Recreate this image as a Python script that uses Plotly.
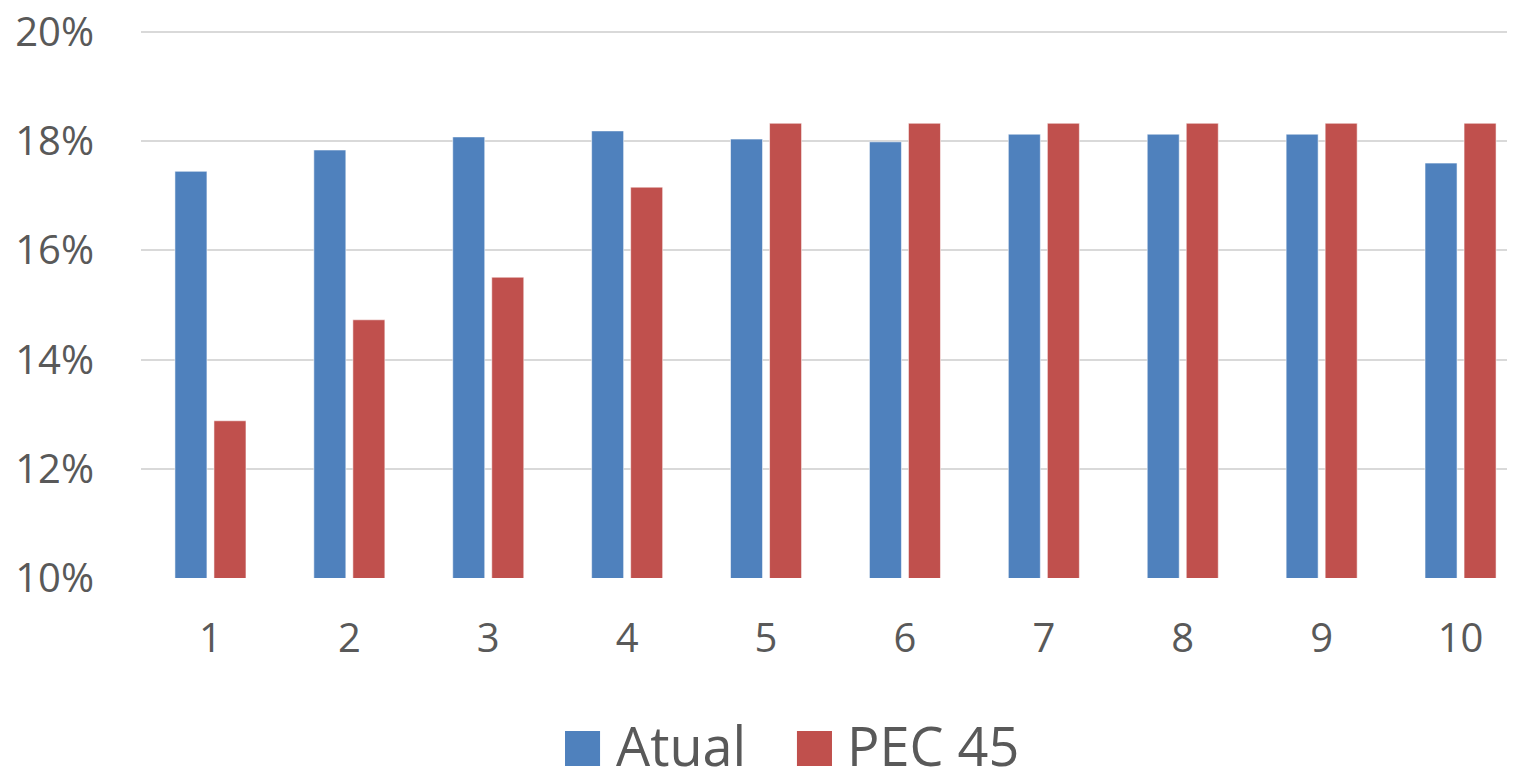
import plotly.graph_objects as go

categories = ["1", "2", "3", "4", "5", "6", "7", "8", "9", "10"]
atual = [17.45, 17.84, 18.08, 18.19, 18.04, 17.99, 18.13, 18.13, 18.13, 17.60]
pec45 = [12.88, 14.73, 15.51, 17.16, 18.33, 18.33, 18.33, 18.33, 18.33, 18.33]
series_names = ["Atual", "PEC 45"]
colors = ["#4F81BD", "#C0504D"]
y_ticks = [10, 12, 14, 16, 18, 20]
y_tick_labels = ["10%", "12%", "14%", "16%", "18%", "20%"]

FONT = "Open Sans"
TXT = "#595959"

fig = go.Figure()
for name, vals, col in zip(series_names, [atual, pec45], colors):
    fig.add_trace(go.Bar(
        x=categories, y=vals, name=name, showlegend=False,
        marker=dict(color=col, line=dict(color="rgba(255,255,255,0.55)", width=1)),
    ))

# Legend drawn as shapes + text to match large squares
leg = [(0.3086, 0.3341, 0.3442), (0.4774, 0.5029, 0.5124)]
for (x0, x1, xt), name, col in zip(leg, series_names, colors):
    fig.add_shape(type="rect", xref="paper", yref="paper", x0=x0, x1=x1,
                  y0=-0.3437, y1=-0.2797, fillcolor=col, line=dict(width=0))
    fig.add_annotation(xref="paper", yref="paper", x=xt, y=-0.306, text=name,
                       showarrow=False, xanchor="left", yanchor="middle",
                       font=dict(family=FONT, size=54, color=TXT))

fig.update_layout(
    width=1507, height=763,
    margin=dict(l=133, r=0, t=23, b=193),
    paper_bgcolor="white", plot_bgcolor="white",
    barmode="group", bargap=0.438, bargroupgap=0.18,
    font=dict(family=FONT, color=TXT),
)
fig.update_xaxes(
    type="category", categoryorder="array", categoryarray=categories,
    range=[-0.5, 9.392], showgrid=False, showline=False, zeroline=False,
    ticks="", tickfont=dict(family=FONT, size=40, color=TXT),
    ticklabelstandoff=33, automargin=False,
)
fig.update_yaxes(
    range=[10, 20.02], tickmode="array", tickvals=y_ticks, ticktext=y_tick_labels,
    showgrid=True, gridcolor="#D9D9D9", gridwidth=2,
    zeroline=False, showline=False, ticks="",
    tickfont=dict(family=FONT, size=40, color=TXT),
    ticklabelstandoff=46, ticklabeloverflow="allow", automargin=False,
)

fig.write_html("out.html")
